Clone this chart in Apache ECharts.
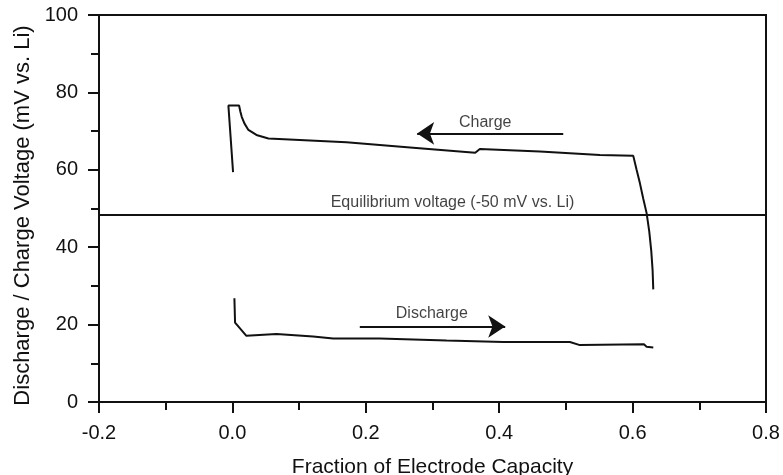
<!DOCTYPE html>
<html>
<head>
<meta charset="utf-8">
<script src="https://cdn.jsdelivr.net/npm/echarts@6/dist/echarts.min.js"></script>
<style>html,body{margin:0;padding:0;background:#fff}#c{width:783px;height:475px}</style>
</head>
<body>
<div id="c"></div>
<script>
// ---- data ----
const xTicks = [-0.2, 0.0, 0.2, 0.4, 0.6, 0.8];
const yTicks = [0, 20, 40, 60, 80, 100];
const chargeX = [0.001, -0.006, 0.010, 0.012, 0.014, 0.018, 0.024, 0.036, 0.054, 0.171, 0.271, 0.364, 0.371, 0.461, 0.551, 0.601, 0.606, 0.611, 0.616, 0.621, 0.625, 0.628, 0.630, 0.631];
const chargeY = [59.4, 76.6, 76.6, 75.0, 73.7, 72.0, 70.3, 69.0, 68.1, 67.1, 65.7, 64.4, 65.4, 64.7, 63.8, 63.6, 60.0, 56.5, 52.5, 48.8, 44.0, 39.0, 34.0, 29.1];
const dischargeX = [0.003, 0.004, 0.021, 0.066, 0.121, 0.151, 0.221, 0.321, 0.406, 0.506, 0.521, 0.617, 0.621, 0.631];
const dischargeY = [26.8, 20.5, 17.1, 17.6, 16.9, 16.4, 16.4, 15.9, 15.5, 15.5, 14.7, 14.9, 14.3, 14.1];
const equilibriumV = 48.5;
const chargeArrow = [[0.496, 69.4], [0.277, 69.4]];
const dischargeArrow = [[0.191, 19.5], [0.409, 19.5]];
const annotations = [
  {text: 'Charge', x: 0.379, y: 72.1},
  {text: 'Discharge', x: 0.299, y: 22.9},
  {text: 'Equilibrium voltage (-50 mV vs. Li)', x: 0.330, y: 51.4}
];
const xTitle = 'Fraction of Electrode Capacity';
const yTitle = 'Discharge / Charge Voltage (mV vs. Li)';

// ---- chart ----
const INK = '#111';
const FONT = 'Liberation Sans, Arial, Helvetica, sans-serif';
const chart = echarts.init(document.getElementById('c'), null, {renderer: 'canvas'});
const zip = (xs, ys) => xs.map((x, i) => [x, ys[i]]);
const arrowLine = (pts) => ({
  type: 'line', data: [], silent: true,
  markLine: {
    silent: true, animation: false,
    symbol: ['none', 'arrow'], symbolSize: 17,
    lineStyle: {color: INK, width: 2, type: 'solid'},
    label: {show: false},
    data: [[{coord: pts[0]}, {coord: pts[1]}]]
  }
});
chart.setOption({
  animation: false,
  backgroundColor: '#fff',
  grid: {left: 99, right: 17, top: 15, bottom: 73, show: true, borderColor: INK, borderWidth: 2,
    containLabel: false, outerBoundsMode: 'none'},
  xAxis: {
    type: 'value', min: xTicks[0], max: xTicks[xTicks.length - 1], interval: 0.2,
    name: xTitle, nameLocation: 'middle', nameGap: 55,
    nameTextStyle: {color: INK, fontSize: 21, fontFamily: FONT},
    axisLine: {show: true, onZero: false, lineStyle: {color: INK, width: 2}},
    axisTick: {show: true, inside: false, length: 11, lineStyle: {color: INK, width: 2}},
    minorTick: {show: true, splitNumber: 2, length: 8, lineStyle: {color: INK, width: 2}},
    splitLine: {show: false},
    axisLabel: {color: INK, fontSize: 20, fontFamily: FONT, margin: 21,
      formatter: v => v.toFixed(1)}
  },
  yAxis: {
    type: 'value', min: yTicks[0], max: yTicks[yTicks.length - 1], interval: 20,
    name: yTitle, nameLocation: 'middle', nameGap: 64,
    nameTextStyle: {color: INK, fontSize: 22, fontFamily: FONT, padding: [0, 14, 0, 0]},
    axisLine: {show: true, onZero: false, lineStyle: {color: INK, width: 2}},
    axisTick: {show: true, inside: false, length: 11, lineStyle: {color: INK, width: 2}},
    minorTick: {show: true, splitNumber: 2, length: 8, lineStyle: {color: INK, width: 2}},
    splitLine: {show: false},
    axisLabel: {color: INK, fontSize: 20, fontFamily: FONT, margin: 21}
  },
  series: [
    {
      type: 'line', data: zip(chargeX, chargeY), showSymbol: false, symbol: 'none',
      lineStyle: {color: INK, width: 2}, smooth: false,
      markLine: {
        silent: true, symbol: ['none', 'none'],
        lineStyle: {color: INK, width: 2, type: 'solid'},
        label: {show: false},
        data: [{yAxis: equilibriumV}]
      }
    },
    {
      type: 'line', data: zip(dischargeX, dischargeY), showSymbol: false, symbol: 'none',
      lineStyle: {color: INK, width: 2}
    },
    arrowLine(chargeArrow),
    arrowLine(dischargeArrow),
    {
      type: 'scatter', symbolSize: 0, silent: true,
      data: annotations.map(a => ({value: [a.x, a.y], name: a.text})),
      label: {show: true, position: 'inside', formatter: p => p.name,
        color: INK, fontSize: 16, fontFamily: FONT}
    }
  ]
});
</script>
</body>
</html>
